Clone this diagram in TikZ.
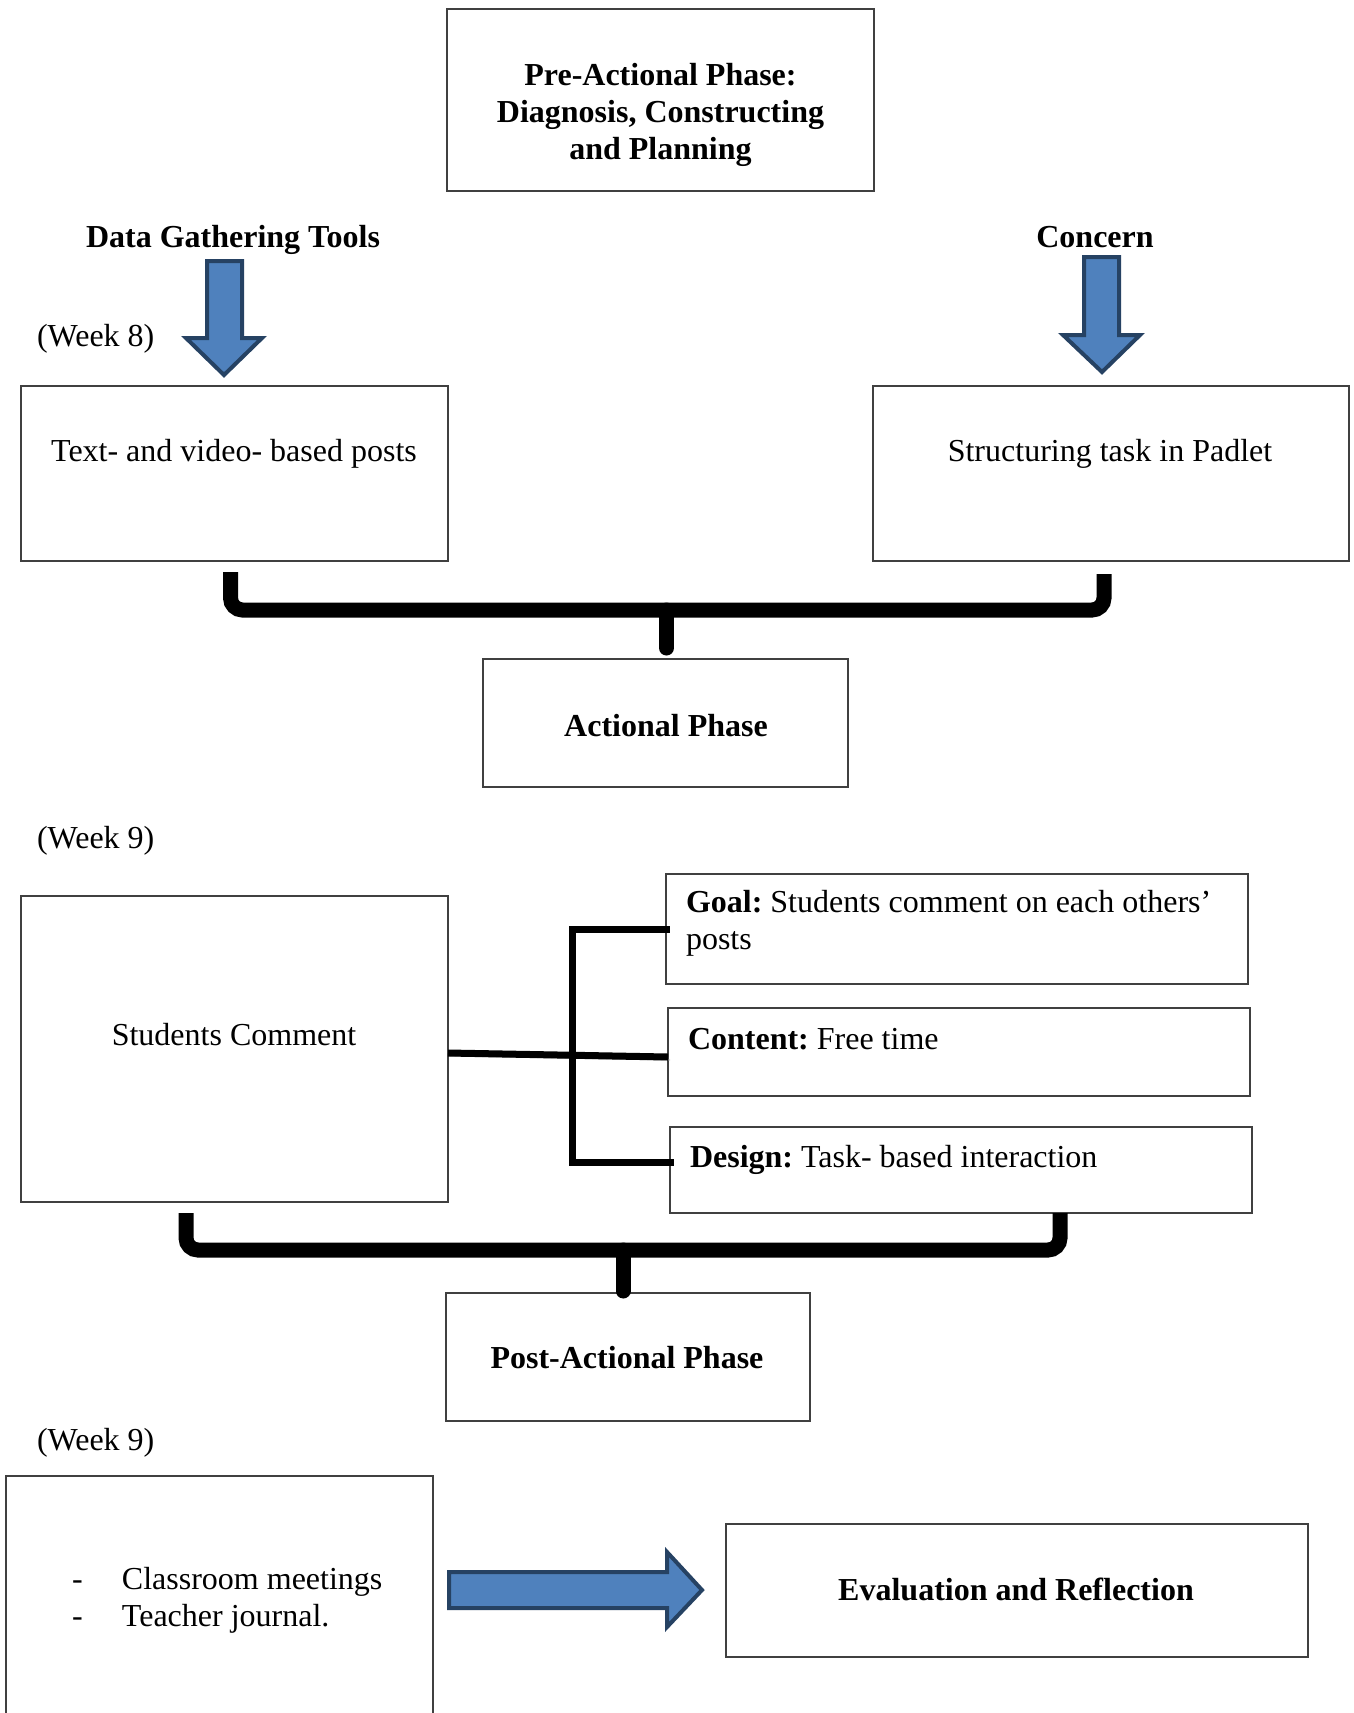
\documentclass[tikz,border=0pt]{standalone}
\usepackage{fontspec}
\setmainfont{Liberation Serif}
\usetikzlibrary{calc}
\definecolor{arrowfill}{HTML}{4F81BD}
\definecolor{arrowline}{HTML}{264263}
\definecolor{boxline}{HTML}{404040}
\definecolor{shadowgray}{HTML}{A6A6A6}
\frenchspacing
\begin{document}
\begin{tikzpicture}[x=0.5pt,y=-0.5pt,
  txt/.style={font=\fontsize{16}{18.5}\selectfont, inner sep=0pt, outer sep=0pt},
  box/.style={draw=boxline, line width=0.75pt, rectangle, inner sep=0pt, outer sep=0pt},
  blockarrow/.style={draw=arrowline, fill=arrowfill, line width=2pt, line join=miter},
  brace/.style={line width=7.5pt, rounded corners=6pt,
    preaction={draw=shadowgray, transform canvas={shift={(3,4)}}}},
  thinlink/.style={line width=3.5pt, line cap=rect,
    preaction={draw=shadowgray, transform canvas={shift={(2,3)}}}}]
\clip (0,0) rectangle (1354,1713);

% ---------- pre-actional phase ----------
\node[box, minimum width=213.5pt, minimum height=91pt] (preBox) at (660.5,100) {};
\node[txt, font=\fontsize{16}{18.5}\selectfont\bfseries, align=center, anchor=north] (preText) at (660.5,63)
  {Pre-Actional Phase:\\Diagnosis, Constructing\\and Planning};

\node[txt, font=\fontsize{16}{18.5}\selectfont\bfseries, anchor=base] (dgt) at (233,247) {Data Gathering Tools};
\node[txt, font=\fontsize{16}{18.5}\selectfont\bfseries, anchor=base] (concern) at (1095,247) {Concern};
\node[txt, anchor=base west] (week8) at (37,346) {(Week 8)};

% down arrows
\draw[blockarrow] (207,261) -- (242,261) -- (242,338) -- (262,338) -- (224,375) -- (186,338) -- (207,338) -- cycle;
\draw[blockarrow] (1084,257) -- (1119,257) -- (1119,335) -- (1140,335) -- (1102,372) -- (1063,335) -- (1084,335) -- cycle;

\node[box, minimum width=213.5pt, minimum height=87.5pt] (tvBox) at (234.5,473.5) {};
\node[txt, anchor=base] (tvText) at (234,461) {Text- and video- based posts};
\node[box, minimum width=238pt, minimum height=87.5pt] (padBox) at (1111,473.5) {};
\node[txt, anchor=base] (padText) at (1110,461) {Structuring task in Padlet};

% ---------- actional phase ----------
\node[box, minimum width=182.5pt, minimum height=64pt] (actBox) at (665.5,723) {};
\node[txt, font=\fontsize{16}{18.5}\selectfont\bfseries, anchor=base] (actText) at (666,736) {Actional Phase};

\coordinate (bar1) at (0,610);
\coordinate (b1L) at ($(tvBox.south)+(-4,11)$);
\coordinate (b1R) at ($(padBox.south)+(-7,13)$);
\coordinate (b1M) at ($(actBox.north)+(1,-11)$);
\draw[brace] (b1L) -- (b1L |- bar1) -- (b1R |- bar1) -- (b1R);
\draw[brace, line cap=round] (b1M |- bar1) -- (b1M);

\node[txt, anchor=base west] (week9a) at (37,848) {(Week 9)};

\node[box, minimum width=213.5pt, minimum height=153pt] (scBox) at (234.5,1049) {};
\node[txt, anchor=base] (scText) at (234,1045) {Students Comment};

\node[box, minimum width=291pt, minimum height=55pt] (goalBox) at (957,929) {};
\node[txt, align=left, anchor=north west] (goalText) at (686,890)
  {\textbf{Goal:} Students comment on each others’\\posts};
\node[box, minimum width=291pt, minimum height=44pt] (contBox) at (959,1052) {};
\node[txt, anchor=base west] (contText) at (688,1049) {\textbf{Content:} Free time};
\node[box, minimum width=291pt, minimum height=43pt] (desBox) at (961,1170) {};
\node[txt, anchor=base west] (desText) at (690,1167) {\textbf{Design:} Task- based interaction};

% links from the comment box to its three aspects
\coordinate (jx) at (572,0);
\coordinate (dj) at ($(desBox.west)+(0,-8)$);
\draw[thinlink, line cap=butt] ($(scBox.east)+(0,4)$) -- ($(contBox.west)+(0,5)$);
\draw[thinlink, line join=miter] (goalBox.west) -- (goalBox.west -| jx) -- (dj -| jx) -- (dj);

% ---------- post-actional phase ----------
\node[box, minimum width=182pt, minimum height=64pt] (postBox) at (628,1357) {};
\node[txt, font=\fontsize{16}{18.5}\selectfont\bfseries, anchor=base] (postText) at (627,1368) {Post-Actional Phase};

\coordinate (bar2) at (0,1250);
\coordinate (b2L) at (186,1213);
\coordinate (b2R) at (1060,1213);
\coordinate (b2M) at ($(postBox.north)+(-5,-2)$);
\draw[brace] (b2L) -- (b2L |- bar2) -- (b2R |- bar2) -- (b2R);
\draw[brace, line cap=round] (b2M |- bar2) -- (b2M);

\node[txt, anchor=base west] (week9b) at (37,1450) {(Week 9)};

\node[box, minimum width=213.5pt, minimum height=142pt] (methBox) at (219.5,1618) {};
\node[txt, align=left, anchor=north west] (methText) at (72,1567)
  {\makebox[25pt][l]{-}Classroom meetings\\\makebox[25pt][l]{-}Teacher journal.};

\draw[blockarrow] (449,1572) -- (667,1572) -- (667,1552) -- (702,1590) -- (667,1627) -- (667,1608) -- (449,1608) -- cycle;

\node[box, minimum width=291pt, minimum height=66.5pt] (evalBox) at (1017,1590.5) {};
\node[txt, font=\fontsize{16}{18.5}\selectfont\bfseries, anchor=base] (evalText) at (1016,1600) {Evaluation and Reflection};
\end{tikzpicture}
\end{document}
